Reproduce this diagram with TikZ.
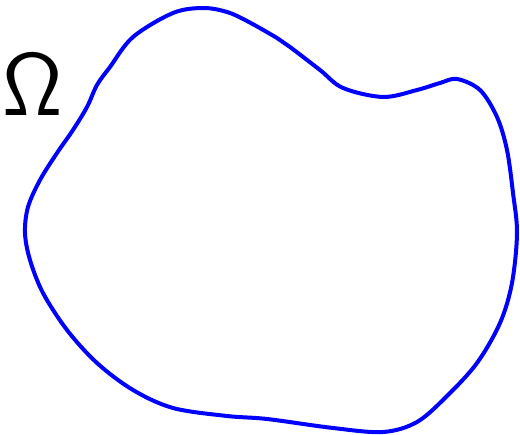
\documentclass[tikz,border=0pt]{standalone}
\usepackage{fontspec}
\begin{document}
\begin{tikzpicture}[x=1pt,y=-1pt,
  blob/.style={draw={rgb,255:red,0;green,0;blue,255},line width=4pt},
  lbl/.style={inner sep=0pt,anchor=base,font=\sffamily\fontsize{89}{89}\selectfont}]
\useasboundingbox (0,0) rectangle (520,435);
\draw[blob] plot[smooth cycle,tension=0.55] coordinates{
(203,8) (173,13) (133,37) (110,67) (97,85) (87,107) (73,130) (57,153) (40,180)
(28,207) (25,233) (30,260) (43,293) (67,330) (97,363) (133,390) (173,408)
(227,416) (267,419) (333,428) (383,432) (417,422) (447,396) (477,363) (500,323)
(512,283) (517,233) (513,193) (507,150) (497,117) (480,90) (457,79) (440,83)
(417,90) (383,97) (343,88) (320,70) (290,47) (277,38) (247,21) (227,12)};
\node[lbl] (omega) at (33,116) {Ω};
\end{tikzpicture}
\end{document}
